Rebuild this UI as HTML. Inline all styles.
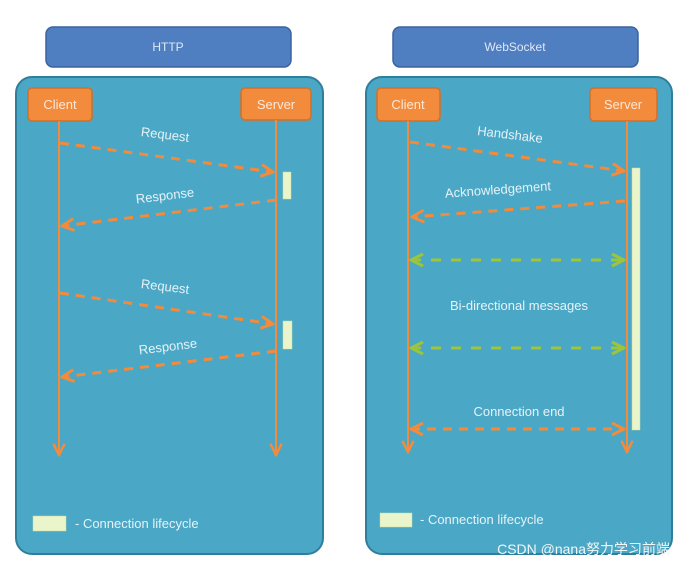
<!DOCTYPE html>
<html><head><style>body{margin:0;background:#fff}svg{display:block}</style></head><body>
<svg width="685" height="569" viewBox="0 0 685 569" xmlns="http://www.w3.org/2000/svg" font-family="Liberation Sans, DejaVu Sans, sans-serif">
<defs>
<marker id="ao" viewBox="0 0 10 10" refX="9" refY="5" markerWidth="5" markerHeight="5" orient="auto-start-reverse"><path d="M1 1 L9 5 L1 9" fill="none" stroke="#f28b3c" stroke-width="2"/></marker>
<marker id="al" viewBox="0 0 10 10" refX="9" refY="5" markerWidth="7" markerHeight="7" orient="auto-start-reverse"><path d="M1 1 L9 5 L1 9" fill="none" stroke="#f28b3c" stroke-width="1.8"/></marker>
<marker id="ag" viewBox="0 0 10 10" refX="9" refY="5" markerWidth="5" markerHeight="5" orient="auto-start-reverse"><path d="M1 1 L9 5 L1 9" fill="none" stroke="#9cc43c" stroke-width="2"/></marker>
</defs>
<rect x="46" y="27" width="245" height="40" rx="7" fill="#4f7fc0" stroke="#3a64a0" stroke-width="1.5"/>
<text x="168" y="51" fill="#dfe8f5" font-size="12" text-anchor="middle">HTTP</text>
<rect x="393" y="27" width="245" height="40" rx="7" fill="#4f7fc0" stroke="#3a64a0" stroke-width="1.5"/>
<text x="515" y="51" fill="#dfe8f5" font-size="12" text-anchor="middle">WebSocket</text>
<rect x="16" y="77" width="307" height="477" rx="16" fill="#4aa8c6" stroke="#2f7f9c" stroke-width="2"/>
<rect x="366" y="77" width="306" height="477" rx="16" fill="#4aa8c6" stroke="#2f7f9c" stroke-width="2"/>
<g fill="#f28b3c" stroke="#d0702a" stroke-width="1.5">
<rect x="28" y="88" width="64" height="33" rx="4"/><rect x="241" y="88" width="70" height="32" rx="4"/>
<rect x="377" y="88" width="63" height="33" rx="4"/><rect x="590" y="88" width="67" height="33" rx="4"/>
</g>
<g fill="#fde8d8" font-size="13" text-anchor="middle">
<text x="60" y="109">Client</text><text x="276" y="109">Server</text>
<text x="408" y="109">Client</text><text x="623" y="109">Server</text>
</g>
<g stroke="#f28b3c" stroke-width="2" fill="none" marker-end="url(#al)">
<line x1="59" y1="121" x2="59" y2="455"/><line x1="276" y1="120" x2="276" y2="455"/>
<line x1="408" y1="121" x2="408" y2="452"/><line x1="627" y1="121" x2="627" y2="452"/>
</g>
<g stroke="#f28b3c" stroke-width="3" stroke-dasharray="9,7" fill="none" marker-end="url(#ao)">
<line x1="60" y1="143" x2="273" y2="172"/><line x1="276" y1="200" x2="62" y2="226"/>
<line x1="60" y1="293" x2="273" y2="324"/><line x1="276" y1="351" x2="62" y2="377"/>
<line x1="410" y1="142" x2="624" y2="171"/><line x1="625" y1="201" x2="412" y2="217"/>
<line x1="411" y1="429" x2="624" y2="429" marker-start="url(#ao)"/>
</g>
<g stroke="#9cc43c" stroke-width="3" stroke-dasharray="10,10" fill="none" marker-end="url(#ag)" marker-start="url(#ag)">
<line x1="411" y1="260" x2="624" y2="260"/><line x1="411" y1="348" x2="624" y2="348"/>
</g>
<g fill="#eaf5cc" stroke="#c8dca0" stroke-width="0.5">
<rect x="283" y="172" width="8" height="27"/><rect x="283" y="321" width="9" height="28"/>
<rect x="632" y="168" width="8" height="262"/>
<rect x="33" y="516" width="33" height="15"/><rect x="380" y="513" width="32" height="14"/>
</g>
<g fill="#e6f2f8" font-size="13" text-anchor="middle">
<text x="165" y="139" transform="rotate(7 165 135)">Request</text>
<text x="165" y="200" transform="rotate(-7 165 196)">Response</text>
<text x="165" y="291" transform="rotate(7 165 287)">Request</text>
<text x="168" y="351" transform="rotate(-7 168 347)">Response</text>
<text x="510" y="139" transform="rotate(7 510 135)">Handshake</text>
<text x="498" y="194" transform="rotate(-4 498 190)">Acknowledgement</text>
<text x="519" y="310">Bi-directional messages</text>
<text x="519" y="416">Connection end</text>
</g>
<g fill="#e6f2f8" font-size="13">
<text x="75" y="528">- Connection lifecycle</text><text x="420" y="524">- Connection lifecycle</text>
</g>
<text x="670" y="554" fill="#f2f6f8" font-size="14" text-anchor="end" font-family="Liberation Sans, Noto Sans CJK SC, sans-serif">CSDN @nana努力学习前端</text>
</svg>
</body></html>
